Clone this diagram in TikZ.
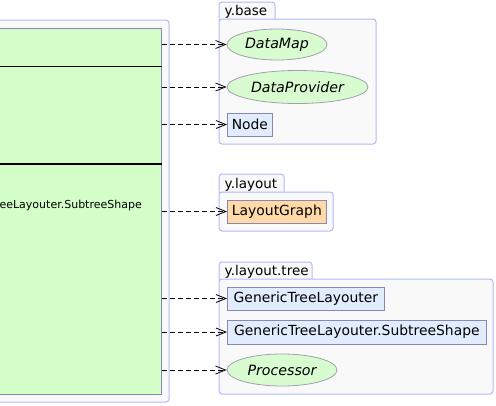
\documentclass[tikz,border=0pt]{standalone}
\usepackage{fontspec}
\setmainfont{DejaVu Sans}
\usetikzlibrary{arrows.meta,shapes.geometric}
\definecolor{pkgline}{RGB}{176,186,248}
\definecolor{pkgfill}{RGB}{249,249,249}
\definecolor{classgreen}{RGB}{212,254,200}
\definecolor{ifacegreen}{RGB}{216,252,208}
\definecolor{boxblue}{RGB}{226,236,255}
\definecolor{boxline}{RGB}{136,136,176}
\definecolor{ellline}{RGB}{160,160,176}
\definecolor{orangefill}{RGB}{255,218,168}
\begin{document}
\begin{tikzpicture}[x=1pt,y=-1pt,
  pkg/.style={draw=pkgline, fill=pkgfill, rounded corners=3pt, line width=1pt},
  pkglabel/.style={anchor=base west, font=\fontsize{13.5}{15}\selectfont, inner sep=0pt},
  iface/.style={ellipse, draw=ellline, fill=ifacegreen, line width=0.8pt, inner sep=0pt, font=\fontsize{14.2}{16}\selectfont\itshape},
  cbox/.style={rectangle, draw=boxline, fill=boxblue, line width=0.8pt, inner sep=0pt, anchor=west, font=\fontsize{13.9}{16}\selectfont},
  dep/.style={draw=black, line width=0.8pt, dash pattern=on 5pt off 3pt, -{Straight Barb[length=10pt,width=8pt,line width=0.8pt]}}
]
\useasboundingbox (0,0) rectangle (496,405);
\clip (0,0) rectangle (496,405);

% left package
\draw[pkg, fill=pkgfill] (-50,20) rectangle (169,402);
\node[draw=boxline, fill=classgreen, line width=0.8pt, minimum width=212pt, minimum height=366pt, anchor=north east, inner sep=0pt] (cls) at (162,28) {};
\draw[line width=1pt] (-50,66.5) -- (162,66.5);
\draw[line width=2pt] (-50,164) -- (162,164);
\node[anchor=east, inner sep=0pt, font=\fontsize{11}{13}\selectfont] (clstext) at (142,205.5) {eeLayouter.SubtreeShape};

% y.base package
\draw[pkg] (219,20) -- (219,2) -- (275,2) -- (275,20);
\draw[pkg] (219,19) rectangle (376,144);
\node[pkglabel] (lbase) at (224.5,15.5) {y.base};
\node[iface, minimum width=100pt, minimum height=31pt] (datamap) at (277,44.5) {DataMap};
\node[iface, minimum width=141pt, minimum height=33pt] (dataprov) at (297.5,87) {DataProvider};
\node[cbox, minimum width=45pt, minimum height=23pt] (node) at (227,124.5) {Node};

% y.layout package
\draw[pkg] (219,193) -- (219,174) -- (284,174) -- (284,193);
\draw[pkg] (219,192) rectangle (333,231);
\node[pkglabel] (llayout) at (224.5,188) {y.layout};
\node[cbox, fill=orangefill, minimum width=99pt, minimum height=23pt] (lg) at (227,211.5) {LayoutGraph};

% y.layout.tree package
\draw[pkg] (219,280) -- (219,262) -- (312,262) -- (312,280);
\draw[pkg] (219,279) rectangle (493,394);
\node[pkglabel] (ltree) at (224.5,275.5) {y.layout.tree};
\node[cbox, minimum width=157pt, minimum height=23pt] (gtl) at (227,298.5) {GenericTreeLayouter};
\node[cbox, minimum width=259pt, minimum height=24pt] (sts) at (227,332) {GenericTreeLayouter.SubtreeShape};
\node[iface, minimum width=110pt, minimum height=32pt] (proc) at (282,370) {Processor};

% dependencies
\draw[dep] (cls.east |- datamap.west) -- (datamap.west);
\draw[dep] (cls.east |- dataprov.west) -- (dataprov.west);
\draw[dep] (cls.east |- node.west) -- (node.west);
\draw[dep] (cls.east |- lg.west) -- (lg.west);
\draw[dep] (cls.east |- gtl.west) -- (gtl.west);
\draw[dep] (cls.east |- sts.west) -- (sts.west);
\draw[dep] (cls.east |- proc.west) -- (proc.west);
\end{tikzpicture}
\end{document}
